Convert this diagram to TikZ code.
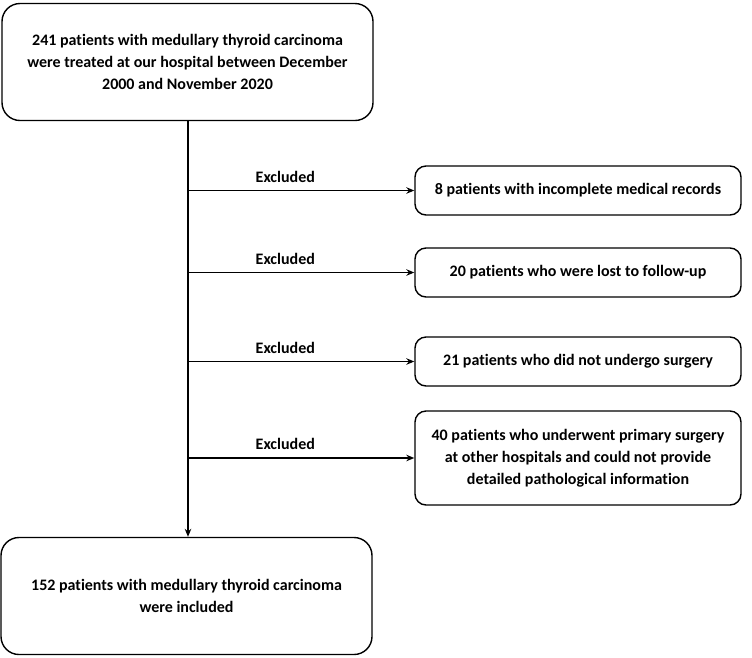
\documentclass[tikz,border=0pt]{standalone}
\usepackage{fontspec}
\setmainfont{Carlito}[Ligatures=NoCommon]
\usetikzlibrary{arrows.meta, positioning}
\tikzstyle{bigbox} = [rectangle, rounded corners=18pt, minimum width=371pt, minimum height=117pt, align=center, draw = black, line width=1.4pt, font=\bfseries\fontsize{16}{22}\selectfont]
\tikzstyle{exbox} = [rectangle, rounded corners=11pt, minimum width=326pt, minimum height=49pt, align=center, draw = black, line width=1.4pt, font=\bfseries\fontsize{16}{22}\selectfont]
\tikzstyle{arrow} = [->,>={Stealth[length=8pt,width=6.5pt]}, line width=1.4pt]
\tikzstyle{lbl} = [font=\bfseries\fontsize{16}{19}\selectfont]

\begin{document}
\begin{tikzpicture}[x=1pt, y=-1pt]
          \useasboundingbox (0,0) rectangle (752,657);
          \node[bigbox] (start) at (187.5,62){241 patients with medullary thyroid carcinoma\\ were treated at our hospital between December\\ 2000 and November 2020};
          \node[bigbox] (final) at (186.5,596){152 patients with medullary thyroid carcinoma\\ were included};

          \node[exbox] (ex1) at (578,190.5){8 patients with incomplete medical records};
          \node[exbox] (ex2) at (578,272.5){20 patients who were lost to follow-up};
          \node[exbox] (ex3) at (578,361.5){21 patients who did not undergo surgery};
          \node[exbox, minimum height=94pt] (ex4) at (578,458){40 patients who underwent primary surgery\\ at other hospitals and could not provide\\ detailed pathological information};

          \draw[arrow](start.south -| 188,0) -- (final.north -| 188,0);
          \foreach \i in {1,...,4}{
            \coordinate (b\i) at (ex\i.west -| 188,0);
            \draw[arrow](b\i) -- node[lbl, above, pos=0.43, yshift=4pt]{Excluded}(ex\i.west);
          }
        \end{tikzpicture}
\end{document}
